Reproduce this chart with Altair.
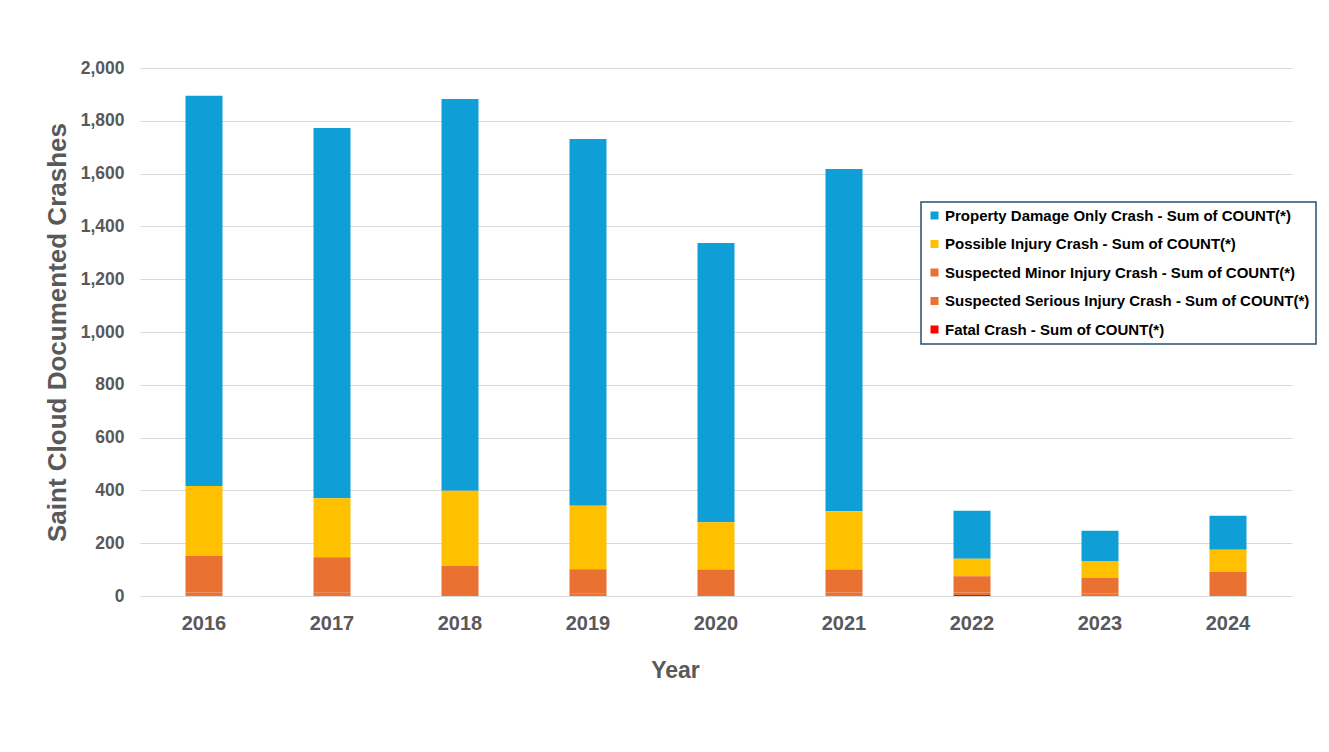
import altair as alt
import pandas as pd

years = ["2016", "2017", "2018", "2019", "2020", "2021", "2022", "2023", "2024"]
property_damage = [1478, 1403, 1484, 1389, 1058, 1296, 182, 114, 129]
possible_injury = [265, 223, 284, 241, 179, 221, 66, 65, 84]
minor_injury = [139, 135, 104, 91, 89, 87, 62, 59, 80]
serious_injury = [12, 11, 10, 9, 10, 12, 9, 8, 10]
fatal = [1, 1, 1, 1, 1, 1, 4, 1, 1]

series_names = [
    "Property Damage Only Crash - Sum of COUNT(*)",
    "Possible Injury Crash - Sum of COUNT(*)",
    "Suspected Minor Injury Crash - Sum of COUNT(*)",
    "Suspected Serious Injury Crash - Sum of COUNT(*)",
    "Fatal Crash - Sum of COUNT(*)",
]
series_colors = ["#0F9ED5", "#FFC000", "#E97132", "#E97132", "#FF0000"]
series_values = [property_damage, possible_injury, minor_injury, serious_injury, fatal]
stack_order = [4, 3, 2, 1, 0]

rows = []
for name, vals, order in zip(series_names, series_values, stack_order):
    for y, v in zip(years, vals):
        rows.append({"Year": y, "Series": name, "Count": v, "order": order})
df = pd.DataFrame(rows)

FONT = "Liberation Sans"
GRAY = "#595959"

chart = (
    alt.Chart(df)
    .mark_bar(size=37)
    .encode(
        x=alt.X(
            "Year:N",
            sort=years,
            scale=alt.Scale(paddingInner=0, paddingOuter=0),
            axis=alt.Axis(
                title="Year",
                labelAngle=0,
                labelFont=FONT,
                labelFontSize=20,
                labelFontWeight="bold",
                labelColor=GRAY,
                labelPadding=17,
                ticks=False,
                domain=False,
                titleFont=FONT,
                titleFontSize=23,
                titleFontWeight="bold",
                titleColor=GRAY,
                titleX=535,
                titleY=74,
                titleAlign="center",
                titleBaseline="middle",
            ),
        ),
        y=alt.Y(
            "Count:Q",
            stack="zero",
            scale=alt.Scale(domain=[0, 2000], nice=False),
            axis=alt.Axis(
                title="Saint Cloud Documented Crashes",
                values=list(range(0, 2001, 200)),
                format=",d",
                labelFont=FONT,
                labelFontSize=17.5,
                labelFontWeight="bold",
                labelColor=GRAY,
                labelPadding=16,
                ticks=False,
                domain=False,
                grid=True,
                gridColor="#D9D9D9",
                gridWidth=1,
                titleFont=FONT,
                titleFontSize=26,
                titleFontWeight="bold",
                titleColor=GRAY,
                titleX=-83,
                titleY=264,
                titleAlign="center",
                titleBaseline="middle",
                titleAngle=270,
            ),
        ),
        color=alt.Color(
            "Series:N",
            scale=alt.Scale(domain=series_names, range=series_colors),
            legend=alt.Legend(
                title=None,
                orient="none",
                legendX=781,
                legendY=134,
                symbolType="square",
                symbolSize=64,
                symbolStrokeWidth=0,
                labelFont=FONT,
                labelFontSize=15,
                labelFontWeight="bold",
                labelColor="#000000",
                labelLimit=500,
                rowPadding=12.5,
                padding=6,
                strokeColor="#24506E",
                fillColor="#FFFFFF",
                labelOffset=3,
            ),
        ),
        order=alt.Order("order:Q", sort="ascending"),
    )
    .properties(
        width=1152,
        height=528,
        autosize=alt.AutoSizeParams(type="none"),
        padding={"left": 132, "top": 60, "right": 28, "bottom": 140},
        background="#FFFFFF",
    )
    .configure_view(stroke=None)
    .configure_legend(strokeWidth=1.5)
)

chart.save("out.html", embed_options={"renderer": "svg", "actions": False})
